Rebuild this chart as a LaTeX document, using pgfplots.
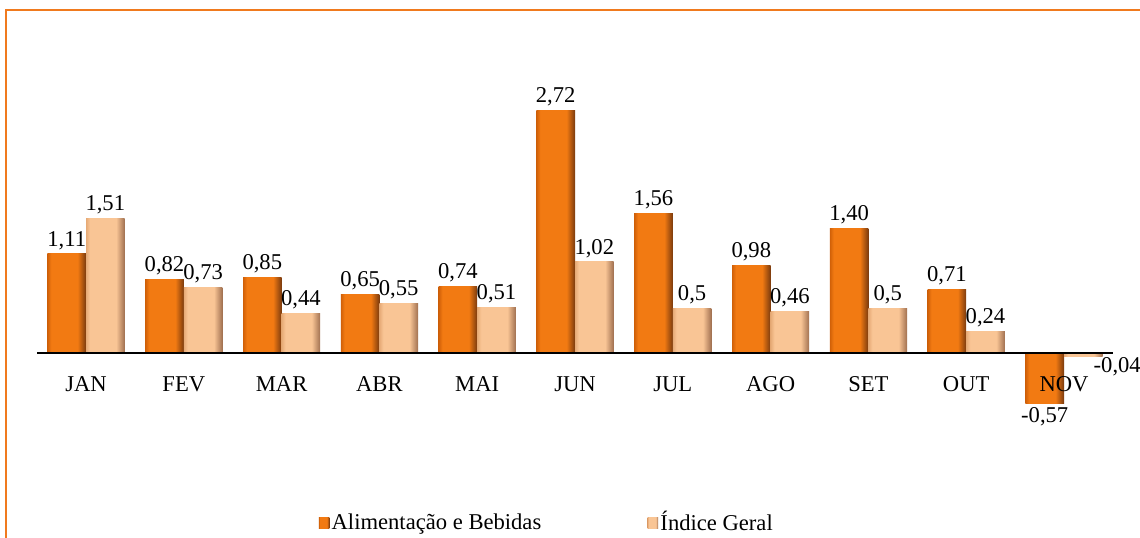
\documentclass[border=0pt]{standalone}
\usepackage{pgfplots}
\pgfplotsset{compat=1.18}
\usepackage{pgfplotstable}
\usepackage{fontspec}
\setmainfont{Liberation Serif}
\definecolor{brd}{HTML}{F07A1E}
\definecolor{orL}{HTML}{D06008}
\definecolor{orM}{HTML}{F27A12}
\definecolor{orR}{HTML}{7A3A0E}
\definecolor{pcL}{HTML}{E6AA76}
\definecolor{pcM}{HTML}{F9C595}
\definecolor{pcR}{HTML}{A07050}
\pgfdeclarehorizontalshading{orshade}{100bp}{color(0bp)=(orL); color(25bp)=(orL); color(30bp)=(orM); color(64bp)=(orM); color(75bp)=(orR); color(100bp)=(orR)}
\pgfdeclarehorizontalshading{pcshade}{100bp}{color(0bp)=(pcL); color(25bp)=(pcL); color(30bp)=(pcM); color(64bp)=(pcM); color(75bp)=(pcR); color(100bp)=(pcR)}
\pgfplotstableread{
x a alab b blab
0 1.11 1,11 1.51 1,51
1 0.82 0,82 0.73 0,73
2 0.85 0,85 0.44 0,44
3 0.65 0,65 0.55 0,55
4 0.74 0,74 0.51 0,51
5 2.72 2,72 1.02 1,02
6 1.56 1,56 0.50 0,5
7 0.98 0,98 0.46 0,46
8 1.40 1,40 0.50 0,5
9 0.71 0,71 0.24 0,24
10 -0.57 -0,57 -0.04 -0,04
}\datatable
\newcommand\fs{\fontsize{11.3pt}{13.5pt}\selectfont}
\tikzset{
  orbar/.style={draw=none, shading=orshade},
  pcbar/.style={draw=none, shading=pcshade},
}
\begin{document}
\fs
\begin{tikzpicture}
\useasboundingbox (0,0) rectangle (570pt,-268.5pt);
\draw[brd, line width=1pt] (3pt,-280pt) -- (3pt,-5pt) -- (580pt,-5pt);
\begin{axis}[
  at={(18.55pt,-220.85pt)}, anchor=south west,
  scale only axis, width=537.9pt, height=178pt,
  xmin=-0.5, xmax=10.5, ymin=-1, ymax=3,
  enlargelimits=false,
  axis on top,
  axis x line=middle, axis y line=none,
  x axis line style={-, line width=1pt, black},
  major tick length=0pt,
  xtick={0,...,10},
  xticklabels={JAN,FEV,MAR,ABR,MAI,JUN,JUL,AGO,SET,OUT,NOV},
  xticklabel style={yshift=-8pt, font=\fs},
  ybar=0pt, bar width=19.3pt,
  point meta=explicit symbolic,
  every node near coord/.append style={font=\fs, inner sep=2pt},
  legend style={at={(0.474,-0.228)}, anchor=center, draw=none, fill=none,
    legend columns=2, font=\fs,
    nodes={inner sep=1.2pt},
    /tikz/every even column/.append style={column sep=52pt}},
  legend cell align=left,
  legend image code/.code={\path[#1, draw=none] (0pt,-2.6pt) rectangle (5.2pt,2.6pt);},
  clip=false,
]
\addlegendimage{orbar}
\addlegendentry{Alimentação e Bebidas}
\addlegendimage{pcbar}
\addlegendentry{Índice Geral}
\pgfplotsinvokeforeach{0,...,9}{
  \addplot[orbar, forget plot, bar shift=-9.65pt, nodes near coords,
    restrict x to domain=#1:#1]
    table[x=x, y=a, meta=alab] {\datatable};
  \addplot[pcbar, forget plot, bar shift=9.65pt, nodes near coords,
    restrict x to domain=#1:#1]
    table[x=x, y=b, meta=blab] {\datatable};
}
\addplot[orbar, forget plot, bar shift=-9.65pt, nodes near coords,
  every node near coord/.append style={anchor=north},
  restrict x to domain=10:10]
  table[x=x, y=a, meta=alab] {\datatable};
\addplot[pcbar, forget plot, bar shift=9.65pt,
  nodes near coords,
  every node near coord/.append style={anchor=west, xshift=3pt, yshift=-5pt},
  restrict x to domain=10:10]
  table[x=x, y=b, meta=blab] {\datatable};
\end{axis}
\end{tikzpicture}
\end{document}
